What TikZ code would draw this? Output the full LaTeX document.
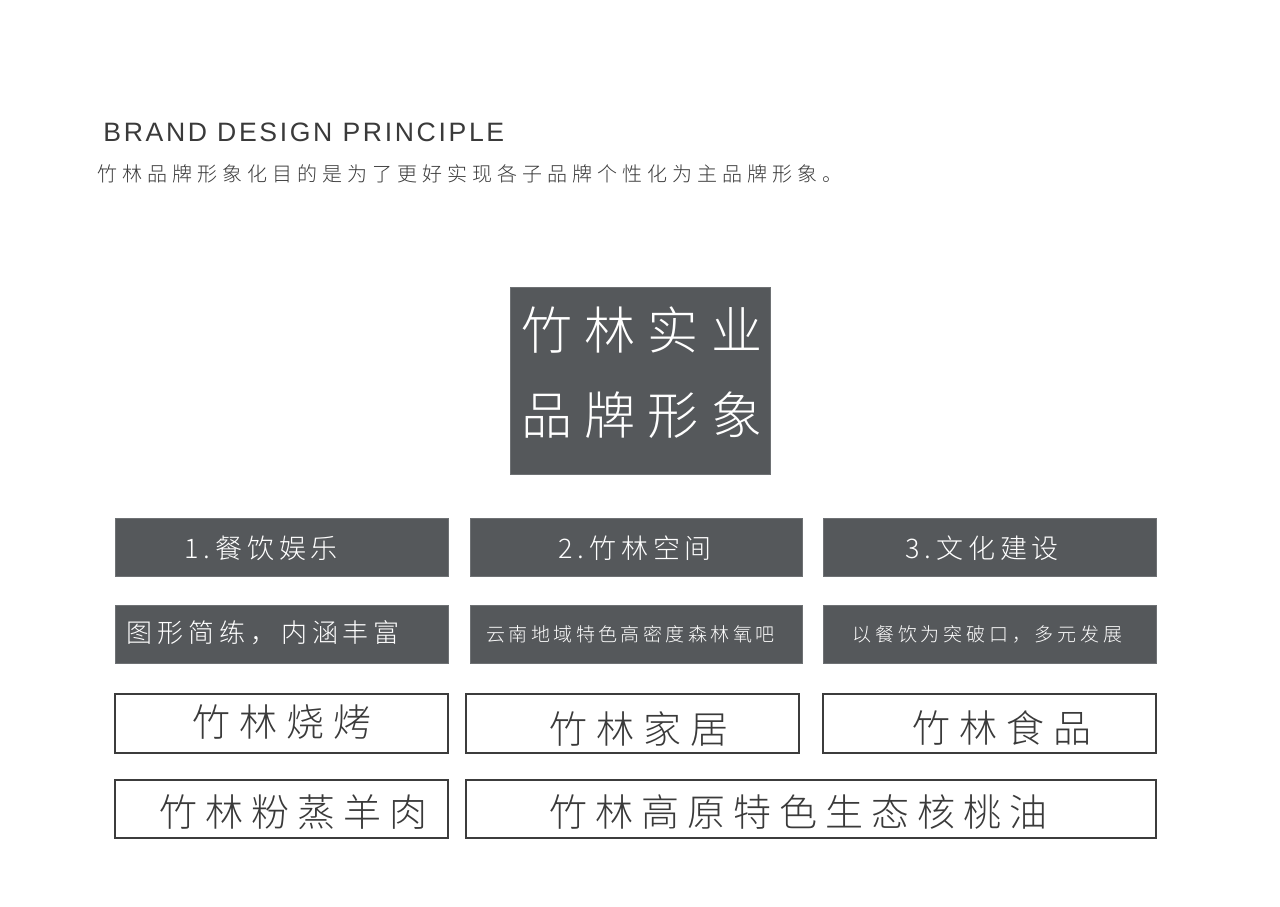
\documentclass[tikz,border=0pt]{standalone}
\usepackage{fontspec}
\newfontfamily\cjk{Noto Sans CJK SC Light}
\newfontfamily\hdfont[LetterSpace=10]{Liberation Sans}
\definecolor{boxgray}{HTML}{55585B}
\definecolor{linegray}{HTML}{3C3C3C}
\definecolor{txtgray}{HTML}{3A3A3A}
\newcommand{\cj}[2]{\fontsize{#1}{#1}\cjk\addfontfeature{LetterSpace=#2}}
\begin{document}
\begin{tikzpicture}[x=0.5pt,y=-0.5pt,
  darkbox/.style={fill=boxgray,draw=boxgray!85!white,line width=0.5pt,inner sep=0pt},
  whitebox/.style={fill=white,draw=linegray,line width=0.7pt,inner sep=0pt},
  lbl/.style={inner sep=0pt,anchor=west},
  wlbl/.style={lbl,text=white},
  glbl/.style={lbl,text=txtgray}]
\fill[white] (0,0) rectangle (1280,906);
\useasboundingbox (0,0) rectangle (1280,906);
% header
\node[inner sep=0pt,anchor=base west,text=txtgray] (hd) at (103,141)
  {\fontsize{13.3}{13.3}\hdfont BRAND DESIGN PRINCIPLE};
\node[glbl] (sub) at (97,174)
  {\cj{10}{25}竹林品牌形象化目的是为了更好实现各子品牌个性化为主品牌形象。};
% main box
\node[darkbox,minimum width=130pt,minimum height=93.5pt] (main) at (640,380.5) {};
\node[wlbl] (m1) at (521,330) {\cj{25.5}{24}竹林实业};
\node[wlbl] (m2) at (521,415) {\cj{25.5}{24}品牌形象};
% row 1
\node[darkbox,minimum width=166.5pt,minimum height=29pt] (a1) at (281.5,547) {};
\node[darkbox,minimum width=166pt,minimum height=29pt] (b1) at (636,547) {};
\node[darkbox,minimum width=166.5pt,minimum height=29pt] (c1) at (989.5,547) {};
\node[wlbl] (ta1) at (184,548) {\cj{13.5}{18}1.餐饮娱乐};
\node[wlbl] (tb1) at (558,548) {\cj{13.5}{18}2.竹林空间};
\node[wlbl] (tc1) at (905,548) {\cj{13.5}{18}3.文化建设};
% row 2
\node[darkbox,minimum width=166.5pt,minimum height=29pt] (a2) at (281.5,634) {};
\node[darkbox,minimum width=166pt,minimum height=29pt] (b2) at (636,634) {};
\node[darkbox,minimum width=166.5pt,minimum height=29pt] (c2) at (989.5,634) {};
\node[wlbl] (ta2) at (126,633) {\cj{13}{19}图形简练，内涵丰富};
\node[wlbl] (tb2) at (486,634) {\cj{9.5}{18}云南地域特色高密度森林氧吧};
\node[wlbl] (tc2) at (852,634) {\cj{9.5}{20}以餐饮为突破口，多元发展};
% row 3
\node[whitebox,minimum width=166.5pt,minimum height=29.5pt] (a3) at (281.5,723.5) {};
\node[whitebox,minimum width=166.5pt,minimum height=29.5pt] (b3) at (632.5,723.5) {};
\node[whitebox,minimum width=166.5pt,minimum height=29.5pt] (c3) at (989.5,723.5) {};
\node[glbl] (ta3) at (192,722) {\cj{19}{24}竹林烧烤};
\node[glbl] (tb3) at (549,729) {\cj{19}{24}竹林家居};
\node[glbl] (tc3) at (912,728) {\cj{19}{24}竹林食品};
% row 4
\node[whitebox,minimum width=166.5pt,minimum height=29pt] (a4) at (281.5,809) {};
\node[whitebox,minimum width=345pt,minimum height=29pt] (b4) at (811,809) {};
\node[glbl] (ta4) at (159,812) {\cj{19}{21}竹林粉蒸羊肉};
\node[glbl] (tb4) at (549,812) {\cj{19}{21}竹林高原特色生态核桃油};
\end{tikzpicture}
\end{document}
